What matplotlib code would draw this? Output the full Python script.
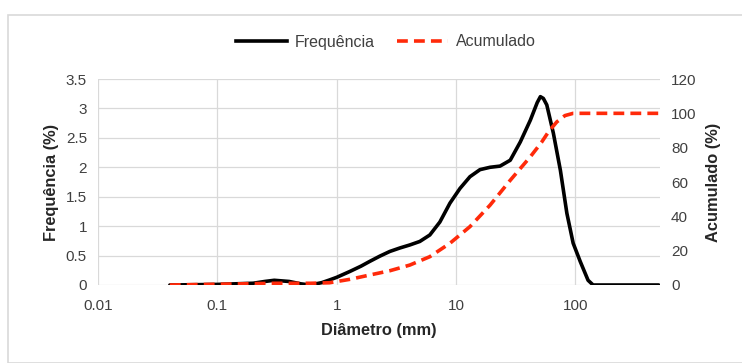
import matplotlib
matplotlib.use("Agg")
import matplotlib.pyplot as plt
from matplotlib.patches import Rectangle
from matplotlib.lines import Line2D

plt.rcParams['font.family'] = ['Liberation Sans', 'DejaVu Sans']

# frequency curve (diameter mm, %)
freq_d = [0.04, 0.1, 0.2, 0.25, 0.3, 0.4, 0.5, 0.6, 0.75, 0.87, 1.0, 1.29, 1.6, 1.89,
          2.3, 2.79, 3.4, 4.1, 4.98, 6.04, 7.33, 8.9, 10.8, 13.1, 15.9, 19.3, 23.4,
          28.5, 34.6, 42, 48, 51, 54, 57.7, 65.5, 75, 85, 96, 110, 128, 141, 500]
freq_v = [0, 0.01, 0.03, 0.06, 0.08, 0.06, 0.02, 0.0, 0.04, 0.085, 0.13, 0.23, 0.32,
          0.40, 0.49, 0.57, 0.63, 0.68, 0.74, 0.85, 1.07, 1.39, 1.64, 1.84, 1.96,
          2.0, 2.02, 2.12, 2.43, 2.8, 3.1, 3.2, 3.17, 3.06, 2.58, 1.95, 1.22, 0.71,
          0.4, 0.08, 0.0, 0.0]

# cumulative curve (diameter mm, %)
cum_d = [0.04, 0.3, 0.6, 0.87, 1.29, 1.89, 2.79, 4.1, 6.04, 8.9, 13.1, 19.3, 28.5,
         42, 52, 60, 70, 82, 96, 150, 500]
cum_v = [0, 1, 1, 1.3, 3.3, 5.8, 8.3, 11.6, 16.5, 24.3, 34, 46.5, 61, 74.7, 83, 89.5,
         95, 98.7, 100, 100, 100]

x_ticks = [0.01, 0.1, 1, 10, 100]
x_labels = ['0.01', '0.1', '1', '10', '100']
y1_ticks = [0, 0.5, 1, 1.5, 2, 2.5, 3, 3.5]
y1_labels = ['0', '0.5', '1', '1.5', '2', '2.5', '3', '3.5']
y2_ticks = [0, 20, 40, 60, 80, 100, 120]

W, H = 742, 363
fig = plt.figure(figsize=(W / 100, H / 100), dpi=100)
fig.patches.append(Rectangle((8 / W, 0), 1, 1 - 15 / H, transform=fig.transFigure,
                             fill=False, edgecolor='#d9d9d9', linewidth=1.2))

ax = fig.add_axes([98 / W, 1 - 285 / H, (660 - 98) / W, (285 - 79) / H])
ax2 = ax.twinx()

ax.plot(freq_d, freq_v, color='black', linewidth=2.6, solid_capstyle='round',
        solid_joinstyle='round', zorder=3)
ax2.plot(cum_d, cum_v, color='#ff2a0a', linewidth=2.6, dashes=(3, 1.7), zorder=3)

ax.set_xscale('log')
ax.set_xlim(0.01, 10 ** 2.71)
ax.set_ylim(0, 3.5)
ax2.set_ylim(0, 120)

ax.set_xticks(x_ticks)
ax.set_xticklabels(x_labels)
ax.minorticks_off()
ax.set_yticks(y1_ticks)
ax.set_yticklabels(y1_labels)
ax2.set_yticks(y2_ticks)

ax.grid(True, color='#d9d9d9', linewidth=0.9)
ax.set_axisbelow(True)
for a in (ax, ax2):
    for s in a.spines.values():
        s.set_visible(False)
    a.tick_params(length=0, labelsize=11, colors='#404040')
ax.tick_params(axis='x', pad=10)
ax.tick_params(axis='y', pad=8)
ax2.tick_params(axis='y', pad=8)

lab = dict(fontsize=11.8, fontweight='bold', color='#262626')
ax.set_xlabel('Diâmetro (mm)', labelpad=7, **lab)
ax.set_ylabel('Frequência (%)', labelpad=5, **lab)
ax2.set_ylabel('Acumulado (%)', labelpad=7, **lab)

handles = [Line2D([], [], color='black', linewidth=2.6),
           Line2D([], [], color='#ff2a0a', linewidth=2.6, dashes=(3, 1.7))]
fig.legend(handles, ['Frequência', 'Acumulado'], loc='center', bbox_to_anchor=(386 / W, 1 - 42 / H),
           ncol=2, frameon=False, fontsize=11.5, handlelength=3.2, columnspacing=1.4,
           handletextpad=0.5, labelcolor='#404040')

fig.savefig('out.png', dpi=100)
